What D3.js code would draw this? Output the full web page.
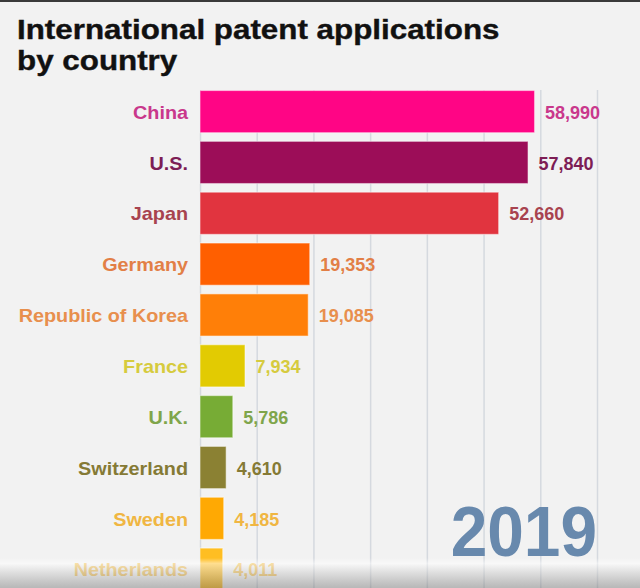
<!DOCTYPE html>
<html><head><meta charset="utf-8">
<script src="https://cdn.jsdelivr.net/npm/d3@7"></script>
<style>html,body{margin:0;padding:0;background:#f2f2f2;}svg{display:block;}</style>
</head><body>
<svg id="chart" width="640" height="588"></svg>
<script>
const titleLines = ["International patent applications", "by country"];
const yearLabel = "2019";
const countries = ["China","U.S.","Japan","Germany","Republic of Korea","France","U.K.","Switzerland","Sweden","Netherlands"];
const values = [58990, 57840, 52660, 19353, 19085, 7934, 5786, 4610, 4185, 4011];
const barColors = ["#ff0585","#9c0d58","#e1343f","#ff5f00","#ff7f08","#e2cb02","#77ac35","#8b8133","#ffa903","#ffbe22"];
const labelColors = ["#c9388c","#7d1d55","#a8434f","#e27f46","#e88f4d","#d6cb3e","#7fa54b","#857a35","#f0b642","#f0bf52"];
const gridTicks = [0,10000,20000,30000,40000,50000,60000,70000];

const W = 640, H = 588;
const svg = d3.select("#chart");

svg.append("rect").attr("width", W).attr("height", H).attr("fill", "#f2f2f2");
svg.append("rect").attr("width", W).attr("height", 2).attr("fill", "#3a3a3a");

const x = d3.scaleLinear().domain([0, 70000]).range([200, 597]);
const y = d3.scaleBand().domain(countries).range([90.5, 590.3]).paddingInner(0.17).paddingOuter(0);

// gridlines
const grid = svg.append("g").attr("transform", `translate(0,${H})`)
  .call(d3.axisBottom(x).tickValues(gridTicks).tickSize(-(H - 90)).tickFormat(""));
grid.select(".domain").remove();
grid.selectAll(".tick line").attr("stroke", "#d5d9df").attr("stroke-width", 1.5);

// title
const t = svg.append("g");
titleLines.forEach((line, i) => {
  t.append("text")
    .attr("transform", `translate(17,${39 + i * 31}) scale(1.12,1)`)
    .attr("font-family", "Liberation Sans, Arial, sans-serif")
    .attr("font-weight", "bold")
    .attr("font-size", 28)
    .attr("fill", "#111")
    .attr("stroke", "#111")
    .attr("stroke-width", 0.4)
    .text(line);
});

const data = countries.map((c, i) => ({c, v: values[i], bar: barColors[i], lab: labelColors[i]}));

// bars
svg.append("g").selectAll("rect").data(data).join("rect")
  .attr("x", x(0))
  .attr("y", d => y(d.c))
  .attr("width", d => x(d.v) - x(0))
  .attr("height", y.bandwidth())
  .attr("fill", d => d.bar)
  .attr("stroke", "#ffffff")
  .attr("stroke-opacity", 0.45)
  .attr("stroke-width", 1.2);

// category labels
svg.append("g").selectAll("text").data(data).join("text")
  .attr("transform", d => `translate(188,${y(d.c) + y.bandwidth() / 2 + 7.2}) scale(1.1,1)`)
  .attr("text-anchor", "end")
  .attr("font-family", "Liberation Sans, Arial, sans-serif")
  .attr("font-weight", "bold")
  .attr("font-size", 18)
  .attr("fill", d => d.lab)
  .text(d => d.c);

// value labels
const fmt = d3.format(",");
svg.append("g").selectAll("text").data(data).join("text")
  .attr("x", d => x(d.v) + 10.5)
  .attr("y", d => y(d.c) + y.bandwidth() / 2 + 7.2)
  .attr("font-family", "Liberation Sans, Arial, sans-serif")
  .attr("font-weight", "bold")
  .attr("font-size", 18)
  .attr("fill", d => d.lab)
  .text(d => fmt(d.v));

// year
svg.append("text")
  .attr("transform", "translate(597,556) scale(0.94,1)")
  .attr("text-anchor", "end")
  .attr("font-family", "Liberation Sans, Arial, sans-serif")
  .attr("font-weight", "bold")
  .attr("font-size", 70)
  .attr("fill", "#6889ad")
  .text(yearLabel);

// bottom shading
const defs = svg.append("defs");
const lg = defs.append("linearGradient").attr("id", "shade").attr("x1", 0).attr("x2", 0).attr("y1", 0).attr("y2", 1);
lg.append("stop").attr("offset", 0).attr("stop-color", "#ffffff").attr("stop-opacity", 0);
lg.append("stop").attr("offset", 0.18).attr("stop-color", "#ffffff").attr("stop-opacity", 0.5);
lg.append("stop").attr("offset", 1).attr("stop-color", "#707070").attr("stop-opacity", 0.45);
svg.append("rect").attr("x", 0).attr("y", 558).attr("width", W).attr("height", H - 558).attr("fill", "url(#shade)");
</script>
</body></html>
